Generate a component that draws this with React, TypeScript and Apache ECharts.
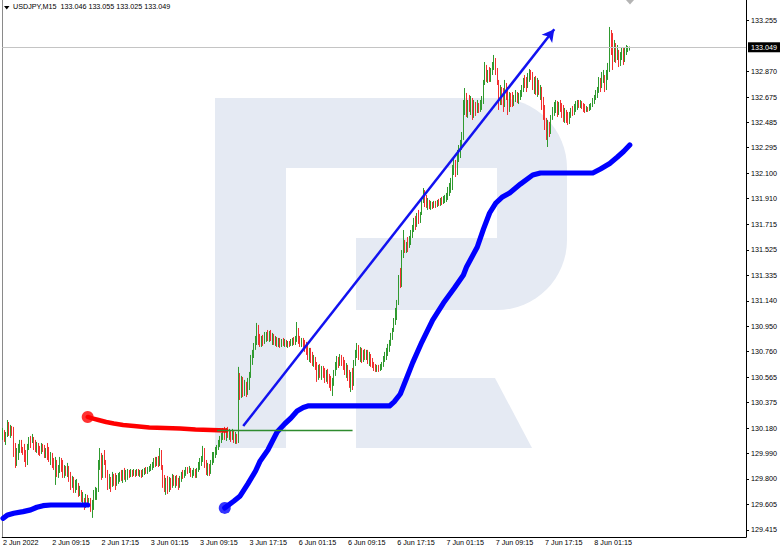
import React, { useEffect, useRef } from 'react';
import * as echarts from 'echarts';

const FONT = '"Liberation Sans", Arial, sans-serif';

const headerText = 'USDJPY,M15  133.046 133.055 133.025 133.049';
const lastPrice = 133.049;
const firstOpen = 130.130;

// M15 bars, 2 Jun 01:15 .. 8 Jun 06:30 (open of each bar = previous close)
const closes = [
  130.153, 130.093, 130.138, 130.206, 130.160, 130.183, 130.138, 130.002, 129.927, 130.017,
  130.048, 130.063, 130.032, 130.002, 129.957, 129.920, 130.048, 130.093, 130.078, 130.115,
  130.048, 130.025, 130.063, 130.010, 129.995, 130.048, 130.032, 129.980, 130.002, 129.972,
  129.942, 129.980, 129.912, 129.889, 129.920, 129.852, 129.867, 129.942, 129.897, 129.837,
  129.882, 129.867, 129.904, 129.807, 129.747, 129.784, 129.716, 129.769, 129.777, 129.686,
  129.716, 129.649, 129.671, 129.596, 129.656, 129.618, 129.641, 129.573, 129.596, 129.686,
  129.701, 129.709, 129.904, 129.957, 129.829, 129.942, 129.927, 129.837, 129.747, 129.807,
  129.732, 129.822, 129.799, 129.754, 129.807, 129.822, 129.837, 129.807, 129.852, 129.822,
  129.837, 129.859, 129.829, 129.852, 129.837, 129.859, 129.844, 129.867, 129.837, 129.852,
  129.829, 129.859, 129.867, 129.852, 129.874, 129.882, 129.897, 129.912, 129.935, 129.920,
  129.950, 129.904, 130.002, 129.897, 129.762, 129.732, 129.792, 129.716, 129.784, 129.769,
  129.814, 129.777, 129.799, 129.762, 129.747, 129.807, 129.837, 129.822, 129.859, 129.874,
  129.859, 129.882, 129.829, 129.852, 129.867, 129.822, 129.867, 129.904, 129.935, 129.957,
  130.025, 129.927, 129.867, 129.897, 129.844, 129.920, 129.972, 129.980, 130.017, 130.040,
  130.070, 130.100, 130.123, 130.160, 130.123, 130.168, 130.123, 130.153, 130.108, 130.160,
  130.093, 130.130, 130.085, 130.560, 130.432, 130.545, 130.454, 130.507, 130.447, 130.530,
  130.582, 130.710, 130.740, 130.801, 130.846, 130.936, 130.846, 130.823, 130.861, 130.838,
  130.876, 130.891, 130.868, 130.899, 130.853, 130.876, 130.831, 130.853, 130.816, 130.838,
  130.808, 130.831, 130.816, 130.838, 130.808, 130.823, 130.808, 130.838, 130.846, 130.823,
  130.861, 130.921, 130.846, 130.816, 130.846, 130.808, 130.778, 130.756, 130.725, 130.771,
  130.695, 130.680, 130.710, 130.643, 130.560, 130.635, 130.590, 130.620, 130.582, 130.545,
  130.605, 130.537, 130.515, 130.477, 130.522, 130.597, 130.650, 130.695, 130.665, 130.710,
  130.680, 130.650, 130.605, 130.643, 130.567, 130.507, 130.545, 130.500, 130.665, 130.748,
  130.786, 130.725, 130.763, 130.710, 130.748, 130.725, 130.756, 130.695, 130.718, 130.665,
  130.650, 130.635, 130.620, 130.635, 130.620, 130.650, 130.665, 130.703, 130.733, 130.756,
  130.793, 130.823, 130.876, 130.914, 130.981, 131.057, 131.109, 131.298, 131.260, 131.486,
  131.599, 131.531, 131.561, 131.523, 131.599, 131.652, 131.689, 131.742, 131.704, 131.780,
  131.757, 131.795, 131.900, 131.968, 131.885, 131.862, 131.885, 131.855, 131.870, 131.847,
  131.877, 131.862, 131.885, 131.877, 131.900, 131.885, 131.915, 131.923, 131.938, 131.975,
  132.005, 132.036, 132.126, 132.201, 132.096, 132.239, 132.277, 132.314, 132.382, 132.578,
  132.691, 132.563, 132.623, 132.593, 132.653, 132.533, 132.623, 132.578, 132.630, 132.593,
  132.623, 132.653, 132.766, 132.894, 132.819, 132.856, 132.811, 132.871, 132.909, 132.969,
  132.879, 132.789, 132.623, 132.743, 132.683, 132.600, 132.774, 132.713, 132.578, 132.691,
  132.653, 132.638, 132.668, 132.706, 132.653, 132.683, 132.698, 132.743, 132.804, 132.789,
  132.743, 132.834, 132.864, 132.841, 132.758, 132.804, 132.728, 132.789, 132.713, 132.743,
  132.608, 132.533, 132.457, 132.389, 132.465, 132.412, 132.518, 132.578, 132.608, 132.630,
  132.563, 132.623, 132.593, 132.548, 132.518, 132.563, 132.503, 132.488, 132.540, 132.578,
  132.555, 132.600, 132.623, 132.638, 132.615, 132.638, 132.608, 132.585, 132.578, 132.593,
  132.578, 132.608, 132.615, 132.653, 132.676, 132.706, 132.728, 132.804, 132.743, 132.849,
  132.856, 132.743, 132.864, 132.909, 133.142, 133.105, 132.939, 133.067, 132.969, 133.030,
  132.932, 132.992, 133.014, 132.954, 133.030, 133.037, 133.046, 133.049,
];

const highs = [
  130.183, 130.168, 130.153, 130.243, 130.228, 130.206, 130.198, 130.191, 130.070, 130.032,
  130.063, 130.093, 130.093, 130.040, 130.063, 130.017, 130.063, 130.115, 130.123, 130.138,
  130.115, 130.093, 130.078, 130.070, 130.048, 130.070, 130.063, 130.055, 130.032, 130.070,
  130.040, 130.002, 129.995, 129.957, 129.965, 129.942, 129.904, 129.965, 129.957, 129.942,
  129.904, 129.897, 129.920, 129.897, 129.852, 129.822, 129.814, 129.792, 129.799, 129.769,
  129.747, 129.716, 129.701, 129.656, 129.686, 129.679, 129.656, 129.656, 129.641, 129.716,
  129.739, 129.732, 129.942, 130.032, 129.995, 129.980, 130.017, 129.942, 129.867, 129.837,
  129.814, 129.852, 129.837, 129.844, 129.829, 129.844, 129.852, 129.867, 129.867, 129.882,
  129.867, 129.874, 129.867, 129.874, 129.867, 129.874, 129.867, 129.874, 129.874, 129.867,
  129.867, 129.874, 129.882, 129.889, 129.889, 129.897, 129.912, 129.927, 129.957, 129.965,
  129.965, 129.972, 130.032, 130.017, 129.904, 129.829, 129.807, 129.822, 129.814, 129.807,
  129.837, 129.829, 129.822, 129.829, 129.807, 129.822, 129.852, 129.867, 129.867, 129.889,
  129.889, 129.897, 129.882, 129.867, 129.882, 129.874, 129.882, 129.927, 129.957, 129.972,
  130.048, 130.032, 129.942, 129.920, 129.912, 129.942, 130.002, 130.002, 130.040, 130.055,
  130.093, 130.123, 130.145, 130.183, 130.191, 130.183, 130.191, 130.176, 130.168, 130.176,
  130.168, 130.153, 130.138, 130.643, 130.597, 130.575, 130.567, 130.545, 130.530, 130.560,
  130.605, 130.733, 130.771, 130.823, 130.876, 130.974, 130.959, 130.891, 130.876, 130.884,
  130.906, 130.906, 130.921, 130.914, 130.921, 130.899, 130.891, 130.876, 130.868, 130.861,
  130.861, 130.853, 130.861, 130.853, 130.846, 130.838, 130.838, 130.853, 130.861, 130.868,
  130.876, 130.981, 130.936, 130.876, 130.861, 130.861, 130.846, 130.831, 130.808, 130.786,
  130.786, 130.756, 130.733, 130.718, 130.680, 130.658, 130.665, 130.650, 130.650, 130.635,
  130.620, 130.628, 130.590, 130.575, 130.560, 130.620, 130.680, 130.725, 130.718, 130.740,
  130.733, 130.718, 130.695, 130.672, 130.658, 130.620, 130.605, 130.635, 130.695, 130.771,
  130.823, 130.808, 130.793, 130.786, 130.771, 130.778, 130.771, 130.771, 130.756, 130.740,
  130.710, 130.680, 130.665, 130.658, 130.658, 130.665, 130.680, 130.725, 130.756, 130.786,
  130.816, 130.846, 130.899, 130.936, 131.011, 131.087, 131.147, 131.335, 131.388, 131.523,
  131.674, 131.599, 131.584, 131.621, 131.629, 131.674, 131.712, 131.765, 131.780, 131.802,
  131.825, 131.810, 131.915, 131.990, 131.975, 131.938, 131.915, 131.900, 131.893, 131.885,
  131.893, 131.893, 131.900, 131.908, 131.915, 131.923, 131.930, 131.938, 131.953, 131.998,
  132.028, 132.066, 132.164, 132.216, 132.201, 132.277, 132.314, 132.352, 132.412, 132.653,
  132.743, 132.706, 132.653, 132.691, 132.683, 132.668, 132.653, 132.638, 132.653, 132.630,
  132.653, 132.683, 132.804, 132.939, 132.917, 132.879, 132.901, 132.894, 132.939, 132.992,
  132.969, 132.894, 132.804, 132.766, 132.751, 132.743, 132.804, 132.781, 132.751, 132.713,
  132.706, 132.713, 132.691, 132.728, 132.713, 132.706, 132.728, 132.766, 132.819, 132.841,
  132.826, 132.856, 132.886, 132.879, 132.864, 132.826, 132.834, 132.819, 132.804, 132.766,
  132.751, 132.676, 132.615, 132.518, 132.503, 132.488, 132.540, 132.600, 132.638, 132.653,
  132.645, 132.638, 132.653, 132.630, 132.615, 132.593, 132.578, 132.563, 132.563, 132.593,
  132.608, 132.623, 132.645, 132.653, 132.653, 132.653, 132.645, 132.630, 132.623, 132.608,
  132.600, 132.623, 132.630, 132.668, 132.691, 132.728, 132.751, 132.826, 132.819, 132.864,
  132.879, 132.841, 132.879, 132.932, 133.203, 133.180, 133.157, 133.105, 133.082, 133.067,
  133.030, 133.014, 133.052, 133.044, 133.052, 133.067, 133.059, 133.055,
];

const lows = [
  130.093, 130.078, 130.055, 130.115, 130.123, 130.108, 130.123, 129.965, 129.882, 129.897,
  129.942, 129.995, 129.995, 129.980, 129.927, 129.889, 129.904, 130.017, 130.032, 130.070,
  130.017, 130.002, 129.995, 129.980, 129.972, 129.987, 130.002, 129.957, 129.957, 129.942,
  129.927, 129.904, 129.882, 129.867, 129.754, 129.814, 129.807, 129.844, 129.852, 129.807,
  129.807, 129.822, 129.814, 129.777, 129.716, 129.732, 129.694, 129.694, 129.716, 129.664,
  129.671, 129.626, 129.618, 129.566, 129.581, 129.588, 129.596, 129.551, 129.506, 129.566,
  129.641, 129.641, 129.701, 129.867, 129.792, 129.807, 129.904, 129.807, 129.716, 129.724,
  129.701, 129.739, 129.747, 129.716, 129.747, 129.762, 129.777, 129.784, 129.769, 129.792,
  129.777, 129.792, 129.807, 129.814, 129.814, 129.822, 129.814, 129.822, 129.822, 129.814,
  129.807, 129.814, 129.829, 129.837, 129.837, 129.852, 129.859, 129.867, 129.882, 129.889,
  129.897, 129.889, 129.897, 129.867, 129.732, 129.701, 129.679, 129.686, 129.701, 129.716,
  129.732, 129.747, 129.732, 129.747, 129.716, 129.732, 129.777, 129.799, 129.807, 129.822,
  129.837, 129.844, 129.814, 129.807, 129.822, 129.807, 129.807, 129.852, 129.867, 129.897,
  129.927, 129.882, 129.829, 129.822, 129.822, 129.837, 129.904, 129.920, 129.957, 129.980,
  130.017, 130.040, 130.070, 130.093, 130.093, 130.085, 130.108, 130.093, 130.078, 130.093,
  130.070, 130.063, 130.063, 130.070, 130.394, 130.409, 130.416, 130.424, 130.416, 130.432,
  130.469, 130.560, 130.658, 130.710, 130.771, 130.808, 130.808, 130.793, 130.793, 130.801,
  130.816, 130.831, 130.838, 130.831, 130.838, 130.808, 130.808, 130.801, 130.793, 130.793,
  130.786, 130.793, 130.801, 130.793, 130.793, 130.786, 130.793, 130.801, 130.801, 130.808,
  130.808, 130.831, 130.816, 130.793, 130.793, 130.786, 130.756, 130.733, 130.695, 130.680,
  130.672, 130.650, 130.643, 130.620, 130.530, 130.545, 130.560, 130.545, 130.560, 130.522,
  130.530, 130.515, 130.485, 130.462, 130.424, 130.500, 130.575, 130.620, 130.635, 130.650,
  130.650, 130.620, 130.582, 130.560, 130.537, 130.485, 130.454, 130.469, 130.500, 130.650,
  130.710, 130.695, 130.680, 130.672, 130.680, 130.695, 130.695, 130.665, 130.650, 130.643,
  130.635, 130.612, 130.605, 130.605, 130.605, 130.612, 130.620, 130.643, 130.680, 130.695,
  130.725, 130.756, 130.801, 130.846, 130.906, 130.959, 130.996, 131.109, 131.237, 131.245,
  131.463, 131.501, 131.501, 131.508, 131.539, 131.561, 131.614, 131.659, 131.674, 131.697,
  131.719, 131.727, 131.787, 131.877, 131.847, 131.840, 131.825, 131.832, 131.825, 131.832,
  131.840, 131.840, 131.847, 131.855, 131.855, 131.862, 131.870, 131.877, 131.885, 131.900,
  131.930, 131.953, 131.975, 132.088, 132.073, 132.088, 132.186, 132.216, 132.277, 132.352,
  132.540, 132.525, 132.518, 132.563, 132.540, 132.503, 132.518, 132.533, 132.555, 132.555,
  132.563, 132.578, 132.623, 132.766, 132.789, 132.781, 132.789, 132.789, 132.841, 132.879,
  132.841, 132.766, 132.578, 132.615, 132.615, 132.563, 132.600, 132.653, 132.540, 132.563,
  132.600, 132.600, 132.608, 132.638, 132.630, 132.623, 132.653, 132.676, 132.713, 132.743,
  132.713, 132.743, 132.789, 132.804, 132.728, 132.698, 132.691, 132.676, 132.691, 132.653,
  132.578, 132.503, 132.427, 132.352, 132.299, 132.374, 132.397, 132.503, 132.533, 132.555,
  132.525, 132.540, 132.563, 132.518, 132.488, 132.480, 132.480, 132.465, 132.472, 132.518,
  132.533, 132.540, 132.563, 132.578, 132.593, 132.593, 132.585, 132.563, 132.555, 132.563,
  132.563, 132.570, 132.578, 132.600, 132.623, 132.653, 132.668, 132.706, 132.713, 132.743,
  132.781, 132.713, 132.728, 132.804, 132.864, 132.992, 132.879, 132.939, 132.932, 132.954,
  132.901, 132.909, 132.954, 132.917, 132.939, 132.992, 133.014, 133.025,
];

// Indicator trails: [bar index, price]
const blueTrailA = [
  [0, 129.503], [3, 129.528], [7, 129.541], [13, 129.553], [18, 129.566],
  [22, 129.586], [26, 129.598], [31, 129.603], [55, 129.603],
];
const redTrail = [
  [55, 130.266], [58, 130.255], [62, 130.243], [67, 130.228], [72, 130.217],
  [78, 130.206], [85, 130.198], [95, 130.187], [105, 130.183], [115, 130.179],
  [125, 130.172], [135, 130.168], [145, 130.164],
];
const blueTrailB = [
  [144, 129.581], [150, 129.633], [154, 129.671], [159, 129.762], [164, 129.859],
  [167, 129.935], [172, 130.017], [178, 130.153], [183, 130.215], [187, 130.258],
  [191, 130.311], [195, 130.338], [198, 130.349], [251, 130.349], [254, 130.380],
  [258, 130.439], [262, 130.555], [266, 130.673], [272, 130.830], [279, 130.996],
  [286, 131.124], [293, 131.235], [299, 131.335], [301, 131.395], [308, 131.546],
  [312, 131.680], [316, 131.802], [320, 131.877], [324, 131.920], [329, 131.953],
  [336, 132.020], [344, 132.088], [349, 132.103], [383, 132.103], [388, 132.133],
  [394, 132.175], [399, 132.224], [403, 132.265], [407, 132.314],
];

// Drawn objects: [bar index, price]
const arrowLine = [[156, 130.198], [358, 133.185]];
const greenLine = [[139, 130.164], [227, 130.164]];

const yTickLabels = [
  129.415, 129.605, 129.800, 129.990, 130.180, 130.375, 130.565, 130.760, 130.950, 131.140,
  131.335, 131.525, 131.715, 131.910, 132.100, 132.295, 132.485, 132.675, 132.870, 133.255,
];
const yMin = 129.362;
const yMax = 133.406;
const totalSlots = 483;
const lastBar = closes.length - 1;

function pad(n: number) {
  return n < 10 ? '0' + n : '' + n;
}
function barLabel(i: number) {
  if (i === 0) return '2 Jun 2022';
  const t = i < 188
    ? Date.UTC(2022, 5, 2, 1, 15) + i * 900000
    : Date.UTC(2022, 5, 6, 0, 15) + (i - 188) * 900000;
  const d = new Date(t);
  return `${d.getUTCDate()} Jun ${pad(d.getUTCHours())}:${pad(d.getUTCMinutes())}`;
}

const categories: string[] = [];
for (let i = 0; i < totalSlots; i++) categories.push(barLabel(i));

const candleData = closes.map((c, i) => [i === 0 ? firstOpen : closes[i - 1], c, lows[i], highs[i]]);

const UP = '#2f9a2f';
const DOWN = '#f23030';
const LOGO = '#e5eaf3';

export default function App() {
  const ref = useRef<HTMLDivElement>(null);
  useEffect(() => {
    if (!ref.current) return;
    const chart = echarts.init(ref.current, undefined, { renderer: 'svg' });
    const showLabel = (i: number) => i % 32 === 0 && i <= lastBar;
    const logoItem = (o: any) => ({ ...o, z: 0, silent: true, style: { fill: LOGO } });
    const trailStyle = (color: string, width: number) => ({ color, width, cap: 'round', join: 'round' });
    chart.setOption({
      animation: false,
      backgroundColor: '#ffffff',
      title: {
        text: headerText,
        left: 13,
        top: 3,
        padding: 0,
        textStyle: { fontSize: 7.2, fontWeight: 'normal', color: '#000', fontFamily: FONT },
      },
      graphic: [
        logoItem({ type: 'rect', shape: { x: 215, y: 98, width: 71, height: 350 } }),
        logoItem({ type: 'rect', shape: { x: 215, y: 98, width: 283, height: 70 } }),
        logoItem({ type: 'rect', shape: { x: 497, y: 98, width: 70, height: 212, r: [0, 70, 70, 0] } }),
        logoItem({ type: 'rect', shape: { x: 356, y: 238, width: 142, height: 72 } }),
        logoItem({ type: 'polygon', shape: { points: [[356, 378], [495, 378], [532, 448], [356, 448]] } }),
        { type: 'polygon', z: 10, silent: true, shape: { points: [[4, 6], [9.5, 6], [6.75, 9.5]] }, style: { fill: '#000' } },
        { type: 'polygon', z: 10, silent: true, shape: { points: [[626, 0], [634, 0], [630, 4.5]] }, style: { fill: '#b4b4b4' } },
      ],
      grid: { left: 2, right: 36, top: 0, bottom: 11, containLabel: false },
      xAxis: {
        type: 'category',
        data: categories,
        boundaryGap: true,
        axisLine: { onZero: false, lineStyle: { color: '#000', width: 1 } },
        axisTick: { interval: showLabel, alignWithLabel: true, length: 3, lineStyle: { color: '#000' } },
        axisLabel: {
          interval: showLabel,
          align: 'left',
          margin: 2,
          fontSize: 7.2,
          color: '#000',
          fontFamily: FONT,
        },
        splitLine: { show: false },
      },
      yAxis: [
        {
          type: 'value',
          position: 'right',
          min: yMin,
          max: yMax,
          splitLine: { show: false },
          axisLine: { show: true, lineStyle: { color: '#000', width: 1 } },
          axisTick: { show: true, length: 3, customValues: yTickLabels, lineStyle: { color: '#000' } },
          axisLabel: {
            customValues: yTickLabels,
            formatter: (v: number) => v.toFixed(3),
            margin: 5,
            fontSize: 7.2,
            color: '#000',
            fontFamily: FONT,
          },
        },
        {
          type: 'value',
          position: 'left',
          min: yMin,
          max: yMax,
          splitLine: { show: false },
          axisLine: { show: true, lineStyle: { color: '#8a8a8a', width: 1 } },
          axisTick: { show: false },
          axisLabel: { show: false },
        },
      ],
      series: [
        {
          type: 'line',
          data: redTrail,
          symbol: 'none',
          z: 3,
          silent: true,
          lineStyle: trailStyle('#ff0000', 4.5),
          markLine: {
            silent: true,
            symbol: ['none', 'none'],
            label: { show: false },
            data: [
              [
                { coord: [categories[greenLine[0][0]], greenLine[0][1]], lineStyle: { color: '#2e8b2e', width: 1.4, type: 'solid' } },
                { coord: [categories[greenLine[1][0]], greenLine[1][1]] },
              ],
              {
                yAxis: lastPrice,
                lineStyle: { color: '#c4c4c4', width: 1, type: 'solid' },
                label: {
                  show: true,
                  position: 'end',
                  distance: 2,
                  formatter: lastPrice.toFixed(3),
                  backgroundColor: '#000',
                  color: '#fff',
                  padding: [2, 3, 1, 3],
                  fontSize: 7.2,
                  fontFamily: FONT,
                },
              },
            ],
          },
        },
        {
          type: 'line',
          data: blueTrailA,
          symbol: 'none',
          z: 3,
          silent: true,
          lineStyle: trailStyle('#0000ff', 5.2),
        },
        {
          type: 'line',
          data: blueTrailB,
          symbol: 'none',
          z: 3,
          silent: true,
          lineStyle: trailStyle('#0000ff', 5.2),
        },
        {
          type: 'scatter',
          z: 4,
          silent: true,
          symbolSize: 12,
          data: [{ value: redTrail[0], itemStyle: { color: '#ff0000' } }, { value: blueTrailB[0], itemStyle: { color: '#0000ff' } }],
        },
        {
          type: 'candlestick',
          data: candleData,
          barWidth: 0.6,
          z: 2,
          silent: true,
          itemStyle: { color: UP, color0: DOWN, borderColor: UP, borderColor0: DOWN, borderWidth: 1 },
          markLine: {
            silent: true,
            symbol: ['none', 'arrow'],
            symbolSize: [10, 12],
            label: { show: false },
            lineStyle: { color: '#1212f0', width: 2.5, type: 'solid' },
            data: [
              [
                { coord: [categories[arrowLine[0][0]], arrowLine[0][1]] },
                { coord: [categories[arrowLine[1][0]], arrowLine[1][1]] },
              ],
            ],
          },
        },
      ],
    });
    return () => chart.dispose();
  }, []);
  return (
    <div
      ref={ref}
      style={{ position: 'fixed', left: 0, top: 0, width: 782, height: 548, background: '#fff' }}
    />
  );
}
